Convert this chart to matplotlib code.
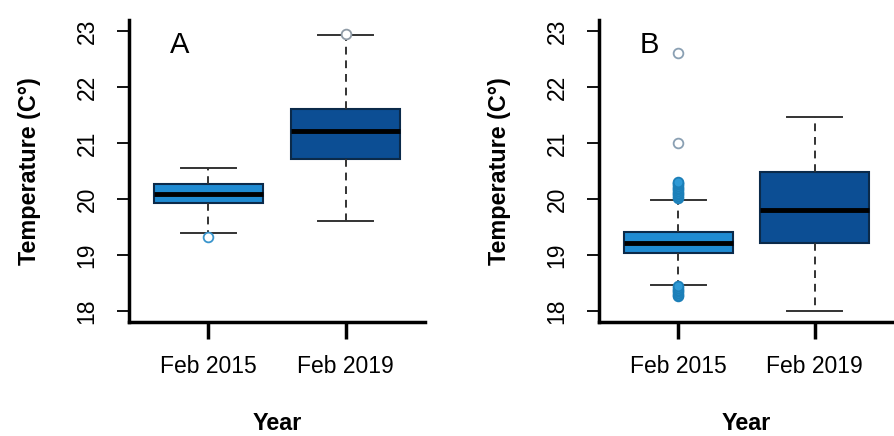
import matplotlib.pyplot as plt

# data (temperature, C)
years = ["Feb 2015", "Feb 2019"]

# panel A
a_whislo = [19.40, 19.61]
a_q1 = [19.92, 20.72]
a_med = [20.08, 21.21]
a_q3 = [20.27, 21.61]
a_whishi = [20.55, 22.93]
a_fliers = [[19.32], [22.95]]

# panel B
b_whislo = [18.47, 17.99]
b_q1 = [19.04, 19.22]
b_med = [19.22, 19.80]
b_q3 = [19.41, 20.48]
b_whishi = [19.99, 21.46]
b_fliers_far = [[22.61, 21.00], []]
b_fliers_near = [[20.02, 20.05, 20.08, 20.11, 20.14, 20.17, 20.20, 20.23, 20.26, 20.29, 20.31,
                  18.26, 18.29, 18.32, 18.35, 18.38, 18.41, 18.44], []]

panel_labels = ["A", "B"]
box_colors = ["#1f8bd2", "#0c4e94"]
flier_colors = ["#3a95cc", "#8f9ba6"]

plt.rcParams['font.family'] = ['Liberation Sans', 'DejaVu Sans']

fig = plt.figure(figsize=(8.94, 4.36), dpi=100)
ax_a = fig.add_axes([129 / 894, 114 / 436, 296 / 894, 302 / 436])
ax_b = fig.add_axes([599 / 894, 114 / 436, 295 / 894, 302 / 436])


def draw_panel(ax, whislo, q1, med, q3, whishi, fliers, label):
    stats = []
    for i in range(len(years)):
        stats.append({"whislo": whislo[i], "q1": q1[i], "med": med[i], "q3": q3[i],
                      "whishi": whishi[i], "fliers": fliers[i], "label": years[i]})
    res = ax.bxp(stats, positions=[1, 2], widths=0.8, patch_artist=True,
                 showfliers=True,
                 boxprops=dict(edgecolor="#0b2a4a", linewidth=1.5),
                 medianprops=dict(color="black", linewidth=3.5, solid_capstyle="butt"),
                 whiskerprops=dict(color="#333333", linewidth=1.4, linestyle=(0, (4, 3))),
                 capprops=dict(color="#333333", linewidth=1.4),
                 capwidths=0.4,
                 flierprops=dict(marker="o", markersize=7, markerfacecolor="white",
                                 markeredgewidth=1.3))
    for patch, c in zip(res["boxes"], box_colors):
        patch.set_facecolor(c)
    for fl, c in zip(res["fliers"], flier_colors):
        fl.set_markeredgecolor(c)
    ax.text(0.72, 22.75, label, fontsize=21, ha="left", va="center")

    ax.set_xlim(0.42, 2.58)
    ax.set_ylim(17.8, 23.2)
    ax.set_yticks([18, 19, 20, 21, 22, 23])
    ax.set_xticks([1, 2])
    ax.set_xticklabels(years)
    for s in ["top", "right"]:
        ax.spines[s].set_visible(False)
    for s in ["left", "bottom"]:
        ax.spines[s].set_linewidth(2.5)
    ax.tick_params(axis="y", length=9, width=1.3, pad=13, labelsize=16.5, labelrotation=90)
    ax.tick_params(axis="x", length=12, width=2.5, pad=12, labelsize=16.5)
    for t in ax.get_yticklabels():
        t.set_va("center")
    ax.set_ylabel("Temperature (C°)", fontsize=16.8, fontweight="bold", labelpad=25)
    ax.set_xlabel("Year", fontsize=16.8, fontweight="bold", labelpad=24)
    return res


draw_panel(ax_a, a_whislo, a_q1, a_med, a_q3, a_whishi, a_fliers, panel_labels[0])
draw_panel(ax_b, b_whislo, b_q1, b_med, b_q3, b_whishi, b_fliers_far, panel_labels[1])

# dense outlier clusters of the Feb 2015 group in panel B
ax_b.plot([1] * len(b_fliers_near[0]), b_fliers_near[0], linestyle="none", marker="o",
          markersize=7, markerfacecolor="#2f9ad6", markeredgecolor="#1c7fb8",
          markeredgewidth=1.3)
for line in ax_b.lines:
    if line.get_marker() == "o" and len(line.get_ydata()) == 2:
        line.set_markeredgecolor("#8aa0b3")

fig.savefig("out.png", dpi=100, facecolor="white")
